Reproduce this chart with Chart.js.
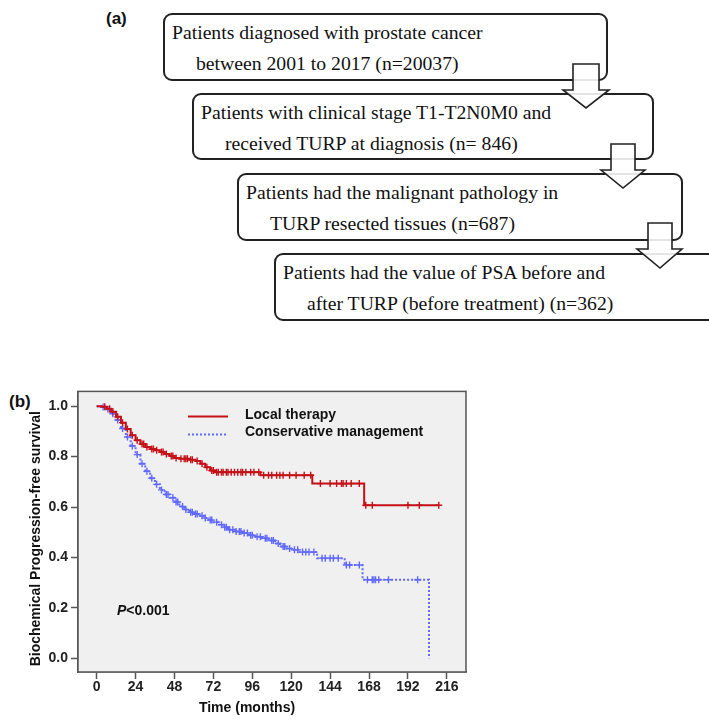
<!DOCTYPE html>
<html>
<head>
<meta charset="utf-8">
<script src="https://cdn.jsdelivr.net/npm/chart.js@4.4.1/dist/chart.umd.min.js"></script>
<style>
  body { margin: 0; width: 709px; height: 719px; background: #fff; position: relative; overflow: hidden; font-family: "Liberation Sans", Arial, sans-serif; }
  .panel { position: absolute; font-weight: bold; font-size: 17px; color: #111; }
  .box { position: absolute; border: 2px solid #222; border-radius: 9px; box-sizing: border-box; background: #fff;
         font-family: "Liberation Serif", "Times New Roman", serif; font-size: 19.7px; line-height: 31px; color: #111;
         padding: 2px 0 0 7px; }
  .box span { display: block; white-space: nowrap; }
  .box span.indent { margin-left: 24px; }
  #arrows { position: absolute; left: 0; top: 0; width: 709px; height: 380px; pointer-events: none; }
  #wrap { position: absolute; left: 0; top: 380px; width: 480px; height: 339px; }
</style>
</head>
<body>

<div class="panel" style="left:106px; top:9px;">(a)</div>
<div class="panel" style="left:9px; top:392px;">(b)</div>

<div class="box" style="left:163px; top:13px; width:445px; height:68px;">
  <span>Patients diagnosed with prostate cancer</span>
  <span class="indent">between 2001 to 2017 (n=20037)</span>
</div>
<div class="box" style="left:192px; top:93px; width:462px; height:67px;">
  <span>Patients with clinical stage T1-T2N0M0 and</span>
  <span class="indent">received TURP at diagnosis (n= 846)</span>
</div>
<div class="box" style="left:237px; top:173px; width:446px; height:68px;">
  <span>Patients had the malignant pathology in</span>
  <span class="indent">TURP resected tissues (n=687)</span>
</div>
<div class="box" style="left:274px; top:253px; width:470px; height:68px;">
  <span>Patients had the value of PSA before and</span>
  <span class="indent">after TURP (before treatment) (n=362)</span>
</div>

<svg id="arrows" viewBox="0 0 709 380">
  <g fill="#fff" fill-opacity="0.88" stroke="#222" stroke-width="1.6" stroke-linejoin="miter">
    <polygon points="573,64 599,64 599,90 609,90 586,108 563,90 573,90"/>
    <polygon points="611,144 635,144 635,170 645,170 623,188 601,170 611,170"/>
    <polygon points="648,223 672,223 672,249 682,249 660,268 637,249 648,249"/>
  </g>
</svg>

<div id="wrap"><canvas id="km-chart"></canvas></div>

<script>
// Kaplan-Meier steps (months, survival after the step)
const localTimes = [0, 3, 6, 9, 12, 15, 18, 21, 24, 27, 30, 33, 36, 39, 42, 45, 48, 51, 57, 61, 64, 67, 70, 73, 101, 133, 165, 211];
const localSurv = [1.0, 0.998, 0.99, 0.978, 0.958, 0.935, 0.91, 0.885, 0.865, 0.85, 0.838, 0.83, 0.825, 0.818, 0.81, 0.803, 0.795, 0.792, 0.788, 0.783, 0.772, 0.758, 0.745, 0.738, 0.726, 0.693, 0.607, 0.607];
const localCensor = [5, 8, 10, 13, 16, 19, 22, 25, 28, 29, 31, 34, 35, 37, 40, 41, 43, 46, 47, 49, 52, 54, 55, 56, 58, 59, 62, 65, 68, 71, 72, 74, 75, 77, 78, 80, 81, 83, 85, 87, 89, 90, 92, 95, 97, 100, 103, 106, 108, 111, 113, 115, 119, 123, 128, 132, 138, 144, 148, 151, 152, 154, 157, 162, 166, 170, 192, 199, 211];

const consTimes = [0, 3, 6, 9, 12, 15, 18, 21, 24, 27, 30, 33, 36, 39, 42, 45, 48, 51, 54, 57, 60, 63, 66, 69, 72, 75, 78, 81, 85, 90, 94, 98, 102, 106, 110, 113, 117, 121, 125, 136, 153, 164, 205];
const consSurv = [1.0, 0.997, 0.988, 0.97, 0.945, 0.912, 0.878, 0.842, 0.808, 0.772, 0.742, 0.714, 0.69, 0.668, 0.65, 0.637, 0.62, 0.602, 0.59, 0.579, 0.572, 0.565, 0.556, 0.548, 0.54, 0.53, 0.52, 0.51, 0.503, 0.497, 0.488, 0.482, 0.476, 0.467, 0.455, 0.443, 0.435, 0.43, 0.421, 0.397, 0.37, 0.311, 0.0];
const consCensor = [4, 7, 10, 13, 16, 19, 22, 25, 28, 31, 34, 37, 40, 43, 44, 47, 49, 50, 53, 55, 58, 59, 61, 62, 65, 67, 70, 71, 74, 77, 79, 80, 82, 84, 86, 88, 89, 91, 93, 95, 96, 99, 101, 104, 105, 108, 109, 112, 115, 116, 119, 122, 124, 127, 129, 131, 134, 139, 141, 144, 146, 149, 154, 156, 162, 167, 170, 171, 172, 174, 180, 198];

const xTicks = [0, 24, 48, 72, 96, 120, 144, 168, 192, 216];
const yTicks = [0.0, 0.2, 0.4, 0.6, 0.8, 1.0];

const seriesNames = ['Local therapy', 'Conservative management'];
const RED = 'rgb(196, 16, 22)';
const BLUE = 'rgb(96, 104, 255)';

// survival value of a step curve at time t
function stepAt(times, surv, t) {
    let v = surv[0];
    for (let i = 0; i < times.length; i++) {
        if (times[i] <= t) v = surv[i];
    }
    return v;
}

function curve(times, surv) {
    return times.map((t, i) => ({x: t, y: surv[i]}));
}

function censorMarks(censor, times, surv) {
    return censor.map(t => ({x: t, y: stepAt(times, surv, t)}));
}

const plotBackground = {
    id: 'plotBackground',
    beforeDatasetsDraw(chart) {
        const {ctx, chartArea: a} = chart;
        ctx.save();
        ctx.fillStyle = '#f0f0f0';
        ctx.fillRect(a.left, a.top, a.right - a.left, a.bottom - a.top);
        ctx.restore();
    },
    afterDraw(chart) {
        const {ctx, chartArea: a} = chart;
        ctx.save();
        ctx.strokeStyle = '#555';
        ctx.lineWidth = 1.5;
        ctx.strokeRect(a.left, a.top, a.right - a.left, a.bottom - a.top);

        // legend inside the plot
        const lx = a.left + 110, ly = a.top + 25;
        ctx.lineWidth = 2;
        ctx.strokeStyle = RED;
        ctx.beginPath(); ctx.moveTo(lx, ly); ctx.lineTo(lx + 40, ly); ctx.stroke();
        ctx.strokeStyle = BLUE;
        ctx.setLineDash([2, 2]);
        ctx.beginPath(); ctx.moveTo(lx, ly + 18); ctx.lineTo(lx + 40, ly + 18); ctx.stroke();
        ctx.setLineDash([]);
        ctx.fillStyle = '#111';
        ctx.font = 'bold 14px "Liberation Sans", Arial, sans-serif';
        ctx.textBaseline = 'middle';
        ctx.fillText(seriesNames[0], lx + 57, ly - 1);
        ctx.fillText(seriesNames[1], lx + 57, ly + 16);

        // p value
        const px = a.left + 39, py = a.top + 220;
        ctx.font = 'italic bold 14px "Liberation Sans", Arial, sans-serif';
        ctx.fillText('P', px, py);
        const w = ctx.measureText('P').width;
        ctx.font = 'bold 14px "Liberation Sans", Arial, sans-serif';
        ctx.fillText('<0.001', px + w, py);

        // axis titles
        ctx.font = 'bold 14px "Liberation Sans", Arial, sans-serif';
        ctx.textAlign = 'center';
        ctx.fillText('Time (months)', a.left + 169, a.bottom + 36);
        ctx.translate(36, (a.top + a.bottom) / 2 + 7);
        ctx.rotate(-Math.PI / 2);
        ctx.fillText('Biochemical Progression-free survival', 0, 0);
        ctx.restore();
    }
};

const tickFont = {family: '"Liberation Sans", Arial, sans-serif', size: 14, weight: 'bold'};

new Chart(document.getElementById('km-chart').getContext('2d'), {
    type: 'line',
    data: {
        datasets: [
            {
                label: seriesNames[0],
                data: curve(localTimes, localSurv),
                stepped: true,
                borderColor: RED,
                borderWidth: 2,
                pointRadius: 0,
                fill: false
            },
            {
                label: seriesNames[1],
                data: curve(consTimes, consSurv),
                stepped: true,
                borderColor: BLUE,
                borderWidth: 2,
                borderDash: [2, 2],
                pointRadius: 0,
                fill: false
            },
            {
                label: seriesNames[0] + ' censored',
                data: censorMarks(localCensor, localTimes, localSurv),
                showLine: false,
                pointStyle: 'cross',
                pointRadius: 3.5,
                pointBorderWidth: 1.4,
                borderColor: RED
            },
            {
                label: seriesNames[1] + ' censored',
                data: censorMarks(consCensor, consTimes, consSurv),
                showLine: false,
                pointStyle: 'cross',
                pointRadius: 3.5,
                pointBorderWidth: 1.4,
                borderColor: BLUE
            }
        ]
    },
    options: {
        responsive: true,
        maintainAspectRatio: false,
        animation: false,
        layout: {padding: {top: 7, right: 14, left: 0, bottom: 0}},
        plugins: {legend: {display: false}, tooltip: {enabled: false}},
        scales: {
            x: {
                type: 'linear',
                min: -11.5,
                max: 227.8,
                afterBuildTicks: scale => { scale.ticks = xTicks.map(v => ({value: v})); },
                afterFit: scale => { scale.height = 47; },
                ticks: {color: '#222', font: tickFont, padding: 0, maxRotation: 0},
                grid: {drawOnChartArea: false, drawTicks: true, tickLength: 7, tickColor: '#555', tickWidth: 1.5},
                border: {color: '#555', width: 1.5}
            },
            y: {
                min: -0.055,
                max: 1.059,
                afterBuildTicks: scale => { scale.ticks = yTicks.map(v => ({value: v})); },
                afterFit: scale => { scale.width = 78; },
                ticks: {color: '#222', font: tickFont, padding: 3, callback: v => v.toFixed(1)},
                grid: {drawOnChartArea: false, drawTicks: true, tickLength: 7, tickColor: '#555', tickWidth: 1.5},
                border: {color: '#555', width: 1.5}
            }
        }
    },
    plugins: [plotBackground]
});
</script>
</body>
</html>
